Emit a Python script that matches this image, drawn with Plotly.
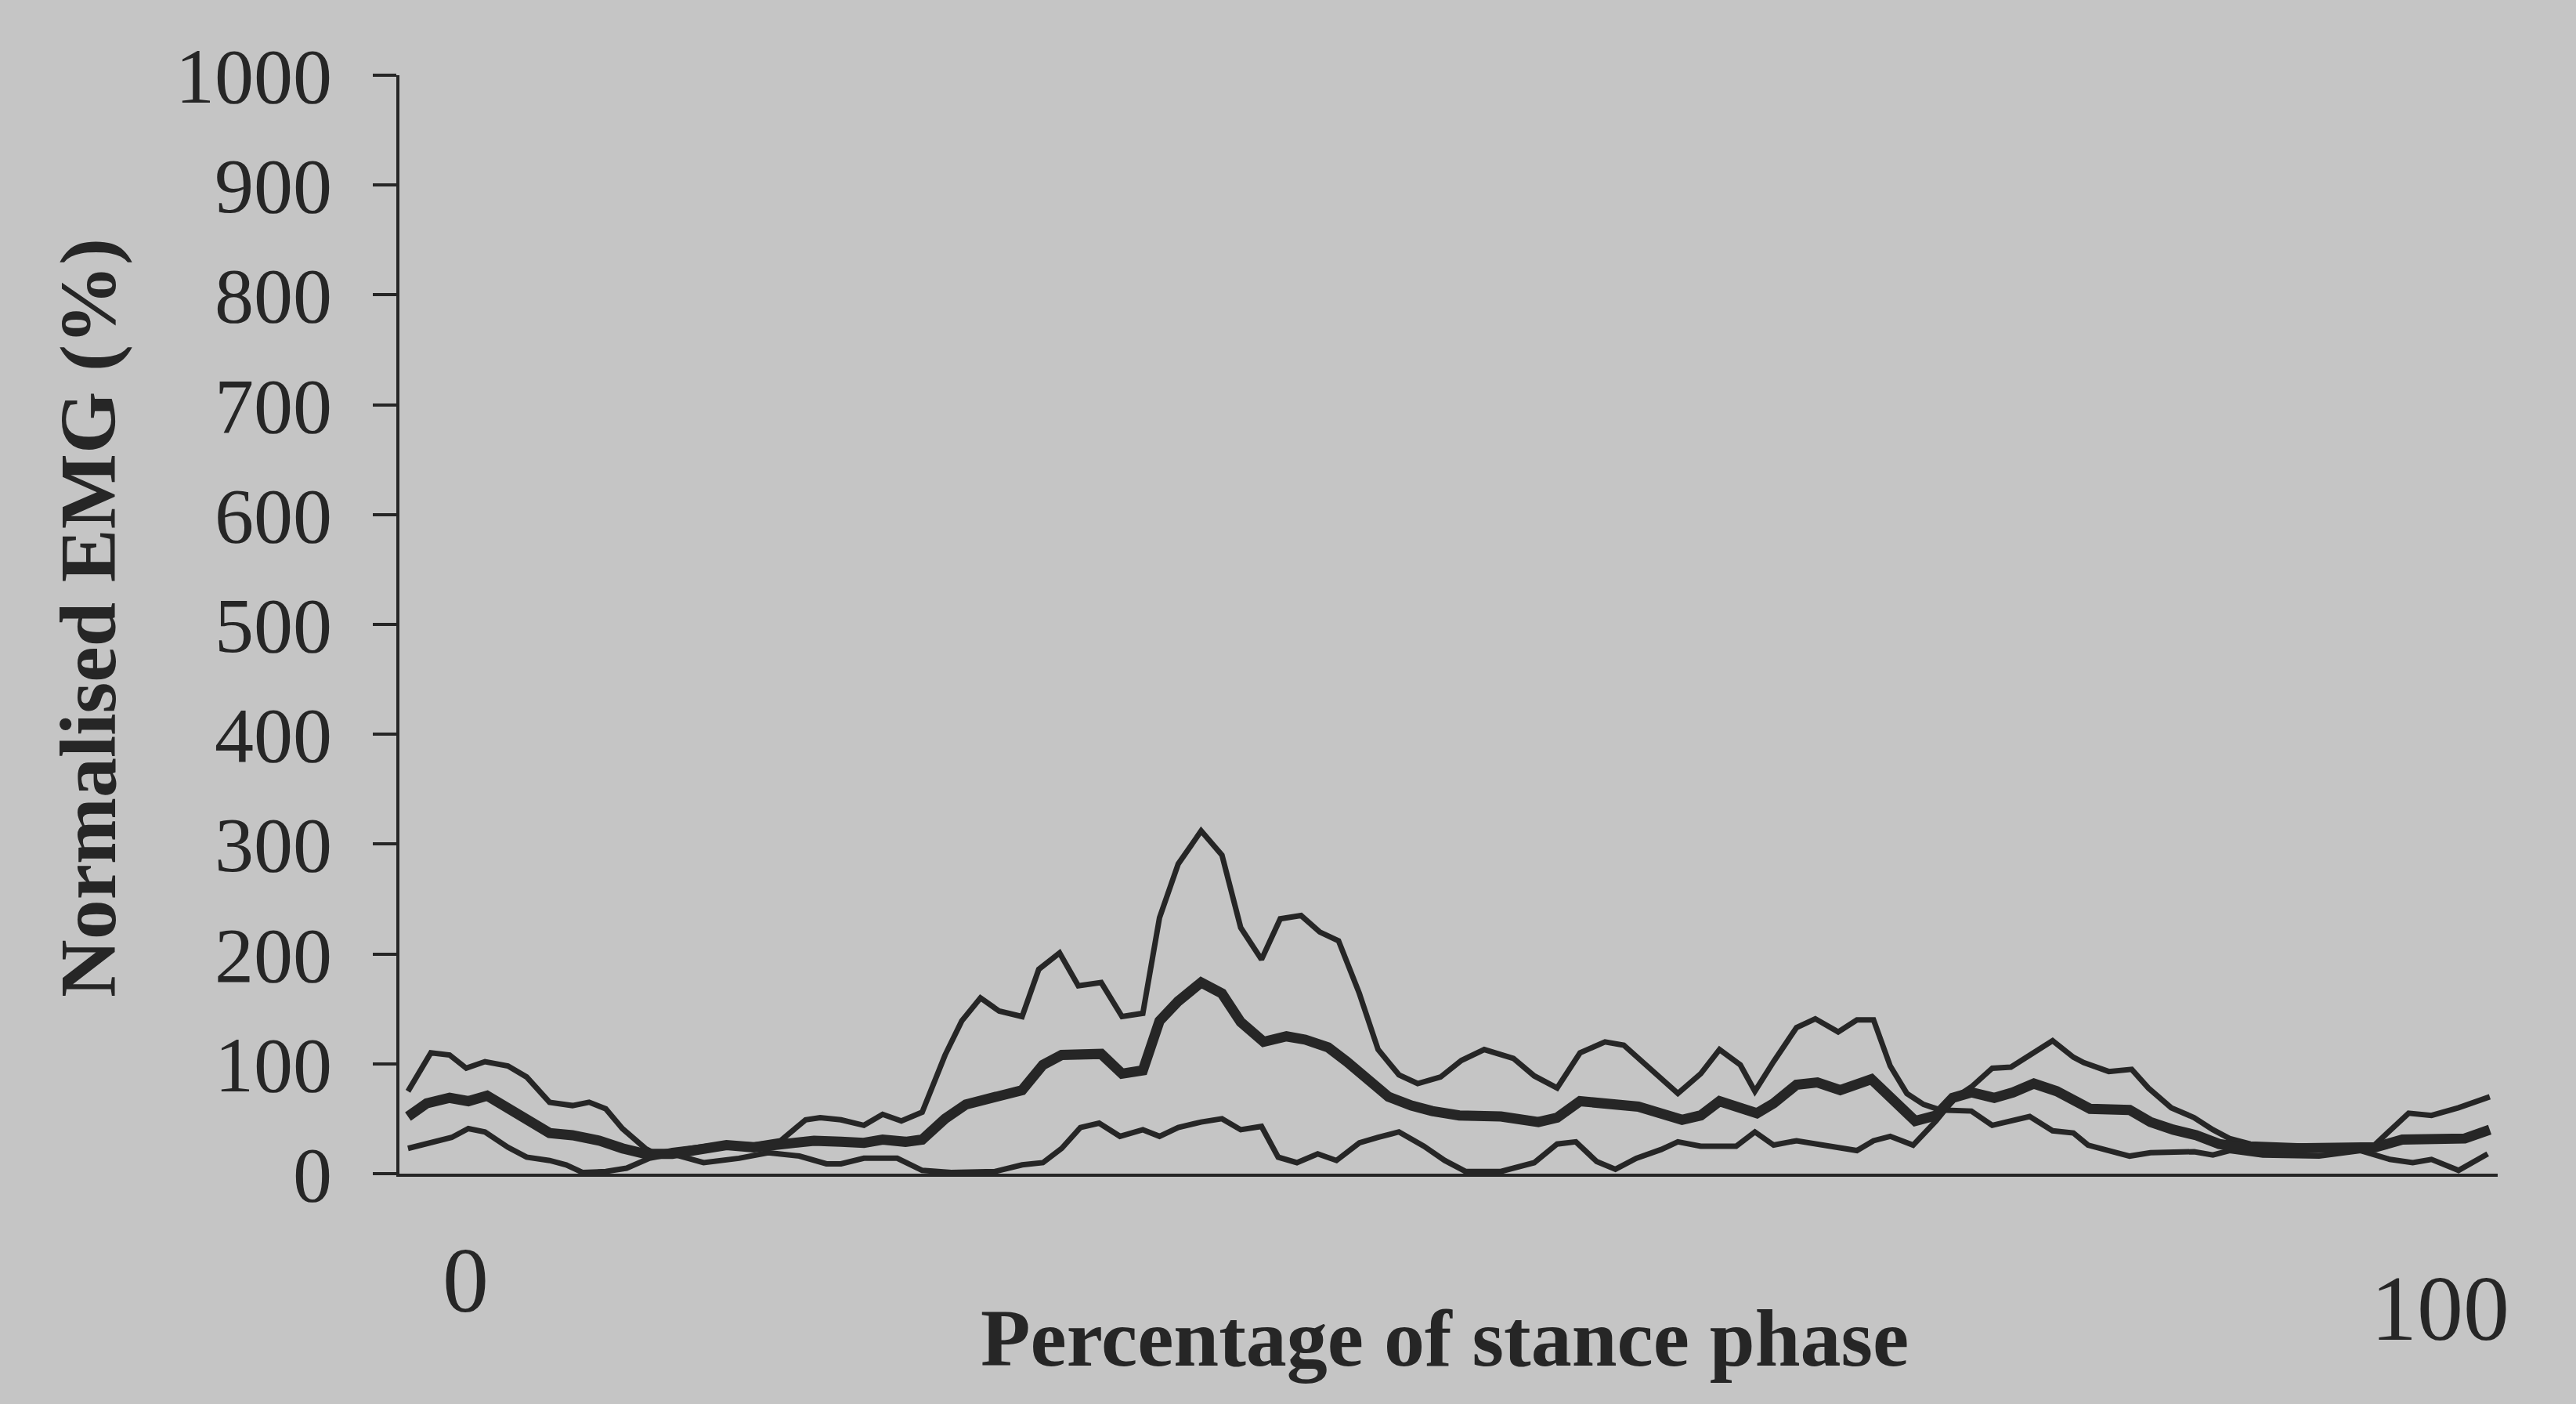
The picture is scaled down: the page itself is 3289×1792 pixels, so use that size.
import plotly.graph_objects as go

# ---------------- data (percentage of stance phase, normalised EMG %) ----------------
curve_a_x = [0, 1.1, 2.0, 2.8, 3.7, 4.8, 5.7, 6.8, 7.9, 8.7, 9.5, 10.3, 11.4, 11.9, 12.7,
             13.9, 15.2, 16.6, 17.9, 19.1, 19.8, 20.8, 21.9, 22.8, 23.7, 24.7, 25.8, 26.6,
             27.5, 28.4, 29.5, 30.3, 31.3, 32.2, 33.3, 34.3, 35.3, 36.1, 37.0, 38.1, 39.1,
             40.0, 41.0, 41.9, 42.9, 43.8, 44.7, 45.7, 46.6, 47.6, 48.5, 49.6, 50.6, 51.7,
             53.1, 54.1, 55.2, 56.3, 57.5, 58.4, 59.3, 61.0, 62.1, 63.0, 64.0, 64.7, 65.6,
             66.7, 67.6, 68.7, 69.6, 70.4, 71.2, 72.0, 72.8, 73.6, 75.1, 76.1, 77.9, 79.0,
             80.0, 80.7, 82.7, 83.7, 85.8, 86.7, 87.5, 89.1, 91.8, 93.8, 95.2, 96.3, 97.2,
             98.5, 99.9]
curve_a_y = [75, 110, 108, 96, 102, 98, 88, 65, 62, 65, 59, 41, 23, 18, 21,
             24, 27, 26, 30, 49, 51, 49, 44, 54, 48, 56, 108, 139,
             160, 148, 143, 186, 201, 171, 174, 143, 146, 233, 282, 312, 290,
             224, 195, 232, 235, 220, 212, 164, 113, 90, 82, 88, 103, 113,
             105, 89, 78, 110, 120, 117, 102, 73, 91, 113, 99, 75, 102,
             133, 141, 129, 140, 140, 98, 73, 63, 58, 57, 44, 52, 39,
             37, 26, 16, 19, 20, 17, 21, 17, 16, 21, 13, 10, 13,
             3, 18]

mean_x = [0, 0.9, 2.0, 2.9, 3.8, 4.9, 5.8, 6.8, 7.9, 9.2, 10.3, 11.4, 12.7, 13.9, 15.3,
          16.6, 17.9, 19.5, 20.8, 21.9, 22.8, 23.9, 24.7, 25.8, 26.8, 28.2, 29.5, 30.5,
          31.4, 33.3, 34.3, 35.3, 36.1, 37.0, 38.1, 39.1, 40.0, 41.1, 42.2, 43.1, 44.2,
          45.1, 46.1, 47.1, 48.2, 49.2, 50.5, 52.5, 54.3, 55.2, 56.3, 57.9, 59.1, 61.2,
          62.1, 63.0, 64.0, 64.8, 65.6, 66.7, 67.7, 68.8, 70.3, 71.2, 72.4, 73.4, 74.2,
          75.1, 76.2, 77.1, 78.1, 79.2, 80.5, 80.8, 82.7, 83.7, 84.8, 85.9, 87.0, 88.5,
          90.5, 92.5, 93.8, 94.5, 95.8, 97.2, 98.8, 100]
mean_y = [52, 64, 69, 66, 71, 58, 48, 37, 35, 30, 23, 18, 18, 22, 26,
          24, 27, 30, 29, 28, 31, 29, 31, 50, 63, 69, 76, 99,
          108, 109, 91, 94, 139, 157, 174, 164, 138, 120, 125, 122, 115,
          102, 85, 70, 62, 57, 53, 52, 47, 51, 66, 62, 61, 49,
          53, 66, 61, 55, 64, 81, 83, 76, 86, 71, 48, 53, 69,
          74, 69, 74, 82, 75, 64, 59, 58, 47, 40, 35, 27, 23,
          23, 23, 22, 24, 31, 31, 32, 40]

curve_b_x = [0, 1.1, 2.1, 2.9, 3.7, 4.8, 5.7, 6.8, 7.6, 8.4, 9.5, 10.5, 11.6, 12.7, 14.2,
             15.9, 17.3, 18.8, 20.1, 20.8, 21.9, 23.5, 24.7, 26.1, 28.2, 29.5, 30.5, 31.4,
             32.3, 33.2, 34.2, 35.3, 36.1, 37.0, 38.1, 39.1, 40.0, 41.0, 41.8, 42.7, 43.7,
             44.6, 45.7, 46.6, 47.6, 48.8, 49.8, 50.8, 52.5, 54.1, 55.2, 56.1, 57.1, 58.0,
             59.0, 60.2, 61.0, 62.1, 63.8, 64.7, 65.6, 66.7, 68.0, 69.6, 70.4, 71.2, 72.3,
             73.4, 74.3, 75.1, 76.1, 77.0, 79.0, 80.0, 80.5, 81.7, 82.8, 83.6, 84.7, 85.8,
             86.7, 87.5, 88.5, 90.5, 92.5, 94.4, 95.2, 96.1, 97.2, 98.5, 100]
curve_b_y = [23, 28, 33, 41, 38, 24, 15, 12, 8, 1, 2, 5, 14, 18, 10,
             14, 19, 16, 9, 9, 14, 14, 3, 1, 2, 8, 10, 23,
             42, 46, 34, 40, 34, 42, 47, 50, 40, 43, 15, 10, 18,
             12, 28, 33, 38, 25, 12, 2, 2, 10, 27, 29, 11, 4,
             14, 22, 29, 25, 25, 38, 26, 30, 26, 21, 30, 34, 26,
             48, 69, 79, 96, 97, 121, 106, 101, 93, 95, 78, 60, 51,
             40, 32, 27, 25, 24, 25, 39, 55, 53, 60, 70]

y_ticks = [0, 100, 200, 300, 400, 500, 600, 700, 800, 900, 1000]
x_tick_labels = ["0", "100"]
x_title = "Percentage of stance phase"
y_title = "Normalised EMG (%)"

# ---------------- styling ----------------
W, H = 3289, 1792
L, R, T, B = 510, 100, 96, 294
BG = "#c5c5c5"
INK = "#262626"
SERIF = "Liberation Serif, Times New Roman, serif"

fig = go.Figure()
for xs, ys, w in [(curve_a_x, curve_a_y, 7), (curve_b_x, curve_b_y, 7), (mean_x, mean_y, 13)]:
    fig.add_trace(go.Scatter(x=xs, y=ys, mode="lines",
                             line=dict(color=INK, width=w, shape="linear"),
                             showlegend=False, hoverinfo="skip"))

pw = W - L - R
ph = H - T - B


def px(xp):
    return (xp - L) / pw


def py(yp):
    return (H - B - yp) / ph


fig.update_layout(
    width=W, height=H,
    margin=dict(l=L, r=R, t=T, b=B),
    paper_bgcolor=BG, plot_bgcolor=BG,
    xaxis=dict(range=[-0.41, 100.38], showgrid=False, zeroline=False,
               showticklabels=False, ticks="", showline=True,
               linecolor=INK, linewidth=4),
    yaxis=dict(range=[0, 1000], tickvals=y_ticks, showgrid=False, zeroline=False,
               ticks="outside", ticklen=30, tickwidth=4, tickcolor=INK,
               showline=True, linecolor=INK, linewidth=4,
               tickfont=dict(family=SERIF, size=100, color=INK),
               ticklabelstandoff=32),
    annotations=[
        dict(text=x_tick_labels[0], xref="paper", yref="paper", x=px(594), y=py(1634),
             showarrow=False, font=dict(family=SERIF, size=118, color=INK),
             xanchor="center", yanchor="middle"),
        dict(text=x_tick_labels[1], xref="paper", yref="paper", x=px(3115), y=py(1670),
             showarrow=False, font=dict(family=SERIF, size=118, color=INK),
             xanchor="center", yanchor="middle"),
        dict(text="<b>" + x_title + "</b>", xref="paper", yref="paper", x=px(1844), y=py(1708),
             showarrow=False, font=dict(family=SERIF, size=104, color=INK),
             xanchor="center", yanchor="middle"),
        dict(text="<b>" + y_title + "</b>", xref="paper", yref="paper", x=px(112), y=py(789),
             showarrow=False, textangle=-90, font=dict(family=SERIF, size=102, color=INK),
             xanchor="center", yanchor="middle"),
    ],
)

fig.write_html("out.html",
               config={"displayModeBar": False, "staticPlot": True},
               post_script="document.body.style.margin='0';document.body.style.background='#c5c5c5';")
